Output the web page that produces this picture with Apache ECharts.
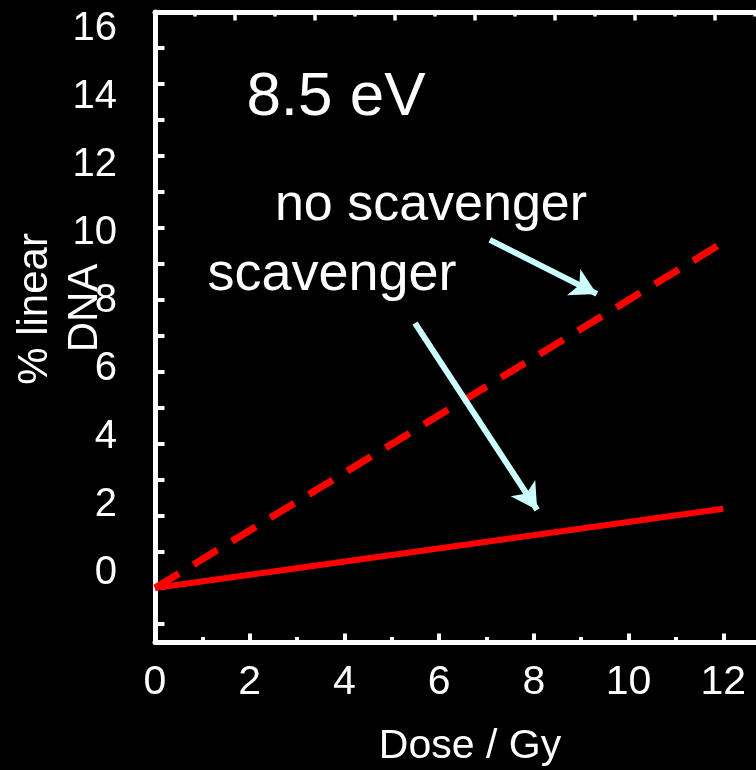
<!DOCTYPE html>
<html>
<head>
<meta charset="utf-8">
<script src="https://cdn.jsdelivr.net/npm/echarts@6/dist/echarts.min.js"></script>
<style>
html,body{margin:0;padding:0;background:#000;}
#c{width:756px;height:770px;}
</style>
</head>
<body>
<div id="c"></div>
<script>
// ---- data ----
const doses = [0, 12];                 // Dose / Gy
const noScavenger = [0, 9.6];          // % linear DNA, no scavenger (dashed)
const scavenger = [0, 2.2];            // % linear DNA, scavenger (solid)
const yTickValues = [-1,0,1,2,3,4,5,6,7,8,9,10,11,12,13,14,15,16];
const yLabelValues = [0,2,4,6,8,10,12,14,16];
const xTickLabels = [0,2,4,6,8,10,12];
// annotation arrows: [start, tip] in data units
const arrowNoScav = [[7.07, 9.67], [9.33, 8.17]];
const arrowScav = [[5.49, 7.36], [8.07, 2.17]];

const FONT = '"Liberation Sans", Arial, Helvetica, sans-serif';
const W = '#ffffff';
const RED = '#ff0000';
const CYAN = '#ccffff';

const chart = echarts.init(document.getElementById('c'), null, {renderer: 'canvas'});

const axisLineStyle = {show: true, onZero: false, lineStyle: {color: W, width: 5}};

const option = {
  backgroundColor: '#000000',
  animation: false,
  grid: {left: 155, top: 12, width: 663, height: 630, containLabel: false, outerBoundsMode: 'none'},
  xAxis: [
    {
      type: 'value', position: 'bottom', min: 0, max: 14, interval: 2,
      axisLine: axisLineStyle,
      axisTick: {show: true, inside: true, length: 8.5, lineStyle: {color: W, width: 4}},
      minorTick: {show: true, splitNumber: 2, length: 5, lineStyle: {color: W, width: 4}},
      axisLabel: {
        color: W, fontSize: 41, fontFamily: FONT, margin: 20,
        formatter: v => xTickLabels.indexOf(v) >= 0 ? String(v) : ''
      },
      splitLine: {show: false}, minorSplitLine: {show: false}
    },
    {
      type: 'value', position: 'top', min: 0, max: 16.575, interval: 2,
      axisLine: axisLineStyle,
      axisTick: {show: true, inside: true, length: 8.5, lineStyle: {color: W, width: 3.5}},
      minorTick: {show: true, splitNumber: 2, length: 4.5, lineStyle: {color: W, width: 3.5}},
      axisLabel: {show: false},
      splitLine: {show: false}, minorSplitLine: {show: false}
    }
  ],
  yAxis: [
    {
      type: 'value', position: 'left', min: -1.5, max: 16,
      axisLine: axisLineStyle,
      axisTick: {show: true, inside: true, length: 9.5, customValues: yTickValues, lineStyle: {color: W, width: 4}},
      axisLabel: {show: false},
      splitLine: {show: false}
    },
    {
      type: 'value', position: 'left', min: -2.044, max: 16.5,
      axisLine: {show: false, onZero: false},
      axisTick: {show: false},
      axisLabel: {
        show: true, color: W, fontSize: 40, fontFamily: FONT, margin: 38,
        customValues: yLabelValues
      },
      splitLine: {show: false}
    }
  ],
  series: [
    {
      name: 'no scavenger', type: 'line', xAxisIndex: 0, yAxisIndex: 0,
      data: doses.map((d, i) => [d, noScavenger[i]]),
      showSymbol: false, symbol: 'none',
      lineStyle: {color: RED, width: 7, type: [28, 17], cap: 'butt'},
      silent: true
    },
    {
      name: 'scavenger', type: 'line', xAxisIndex: 0, yAxisIndex: 0,
      data: doses.map((d, i) => [d, scavenger[i]]),
      showSymbol: false, symbol: 'none',
      lineStyle: {color: RED, width: 6, type: 'solid'},
      silent: true,
      markLine: {
        silent: true, animation: false,
        symbol: ['none', 'arrow'], symbolSize: [22, 26],
        label: {show: false},
        lineStyle: {color: CYAN, width: 6, type: 'solid'},
        emphasis: {disabled: true},
        data: [
          [{coord: arrowNoScav[0]}, {coord: arrowNoScav[1]}],
          [{coord: arrowScav[0]}, {coord: arrowScav[1]}]
        ]
      }
    }
  ],
  graphic: [
    {type: 'text', x: 336, y: 98, silent: true,
     style: {text: '8.5 eV', fill: W, font: '62px ' + FONT, textAlign: 'center', textVerticalAlign: 'middle', align: 'center', verticalAlign: 'middle'}},
    {type: 'text', x: 431, y: 206, silent: true,
     style: {text: 'no scavenger', fill: W, font: '52px ' + FONT, textAlign: 'center', textVerticalAlign: 'middle', align: 'center', verticalAlign: 'middle'}},
    {type: 'text', x: 332, y: 275, silent: true,
     style: {text: 'scavenger', fill: W, font: '54px ' + FONT, textAlign: 'center', textVerticalAlign: 'middle', align: 'center', verticalAlign: 'middle'}},
    {type: 'text', x: 35, y: 309, rotation: Math.PI / 2, silent: true,
     style: {text: '% linear', fill: W, font: '42px ' + FONT, textAlign: 'center', textVerticalAlign: 'middle', align: 'center', verticalAlign: 'middle'}},
    {type: 'text', x: 85, y: 308, rotation: Math.PI / 2, silent: true,
     style: {text: 'DNA', fill: W, font: '42px ' + FONT, textAlign: 'center', textVerticalAlign: 'middle', align: 'center', verticalAlign: 'middle'}},
    {type: 'text', x: 470, y: 747, silent: true,
     style: {text: 'Dose / Gy', fill: W, font: '41px ' + FONT, textAlign: 'center', textVerticalAlign: 'middle', align: 'center', verticalAlign: 'middle'}}
  ]
};

chart.setOption(option);
</script>
</body>
</html>
